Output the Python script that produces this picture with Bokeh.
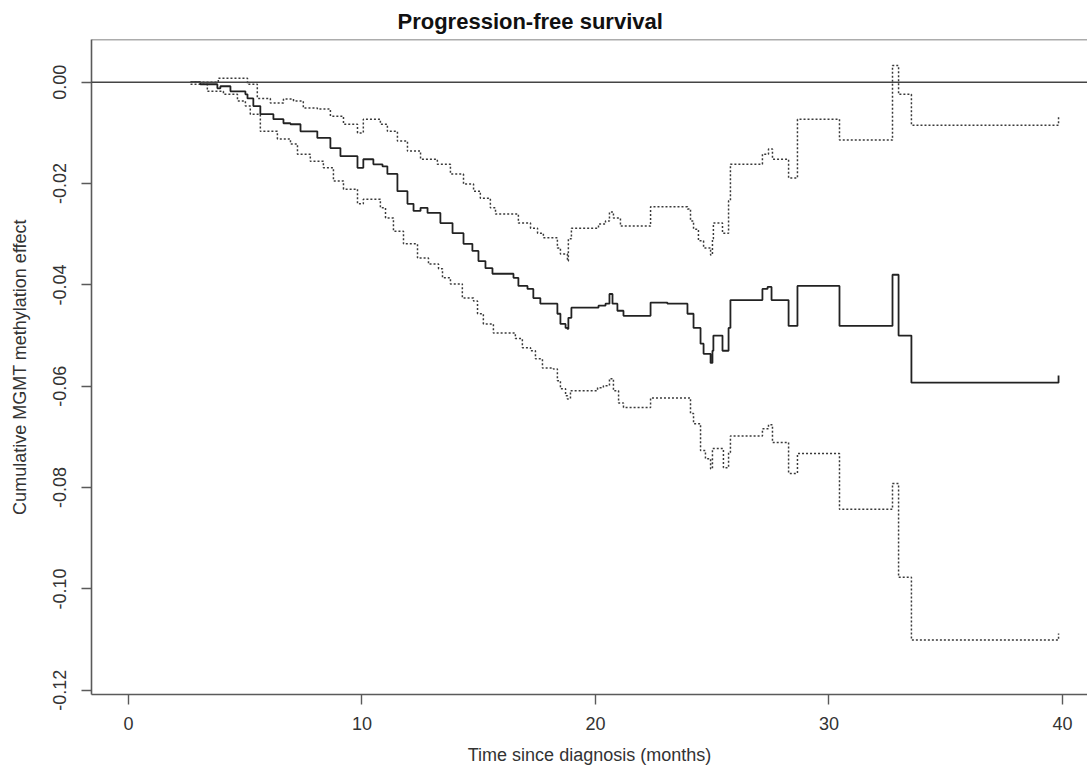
from bokeh.plotting import figure
from bokeh.models import Range1d, FixedTicker, Span, PrintfTickFormatter
from bokeh.embed import file_html
from bokeh.resources import INLINE

# ---------------- data ----------------
time_est = [2.66, 3.08, 3.81, 3.94, 4.37, 5.01, 5.10, 5.35, 5.65, 6.21, 6.64, 6.94, 7.37, 8.09,
            8.65, 9.08, 9.81, 10.06, 10.49, 10.88, 11.09, 11.52, 11.95, 12.21, 12.51, 12.81,
            13.36, 13.88, 14.35, 14.73, 14.99, 15.29, 15.59, 16.49, 16.70, 17.09, 17.34, 17.64,
            18.37, 18.50, 18.72, 18.80, 18.84, 18.97, 20.13, 20.43, 20.60, 20.73, 20.94, 21.20,
            22.36, 23.08, 23.94, 24.20, 24.50, 24.63, 24.93, 25.01, 25.05, 25.44, 25.70, 25.78,
            27.15, 27.37, 27.54, 28.27, 28.65, 30.45, 32.72, 32.98, 33.53, 39.83]
effect_est = [0.0, -0.0004, -0.0012, -0.0008, -0.0018, -0.0024, -0.0032, -0.0047, -0.0063,
              -0.0073, -0.0081, -0.0083, -0.0097, -0.0110, -0.0130, -0.0146, -0.0169, -0.0152,
              -0.0162, -0.0166, -0.0181, -0.0215, -0.0240, -0.0254, -0.0248, -0.0258, -0.0278,
              -0.0298, -0.0319, -0.0333, -0.0353, -0.0367, -0.0378, -0.0386, -0.0402, -0.0408,
              -0.0426, -0.0437, -0.0457, -0.0477, -0.0485, -0.0487, -0.0465, -0.0445, -0.0441,
              -0.0437, -0.0418, -0.0437, -0.0451, -0.0461, -0.0435, -0.0437, -0.0457, -0.0485,
              -0.0516, -0.0536, -0.0554, -0.0530, -0.0500, -0.0530, -0.0485, -0.0430, -0.0408,
              -0.0404, -0.0430, -0.0481, -0.0402, -0.0481, -0.0380, -0.0500, -0.0593, -0.0579]

time_up = [2.66, 3.85, 5.10, 5.52, 6.08, 6.64, 7.07, 7.49, 8.09, 8.65, 9.21, 9.81, 10.06, 10.79,
           11.09, 11.52, 11.95, 12.51, 13.23, 13.79, 14.35, 14.78, 15.07, 15.50, 15.72, 16.70,
           17.22, 17.52, 17.77, 18.37, 18.50, 18.80, 18.84, 18.97, 20.13, 20.43, 20.60, 20.77,
           21.07, 22.36, 23.94, 24.07, 24.20, 24.41, 24.63, 24.93, 25.01, 25.05, 25.44, 25.70,
           25.78, 27.15, 27.41, 27.58, 28.27, 28.65, 30.45, 32.72, 32.98, 33.53, 39.83]
effect_up = [0.0, 0.0008, -0.0004, -0.0032, -0.0041, -0.0033, -0.0037, -0.0051, -0.0053,
             -0.0067, -0.0083, -0.0100, -0.0073, -0.0083, -0.0097, -0.0116, -0.0136, -0.0152,
             -0.0162, -0.0181, -0.0201, -0.0215, -0.0229, -0.0248, -0.0260, -0.0278, -0.0288,
             -0.0298, -0.0307, -0.0327, -0.0339, -0.0353, -0.0309, -0.0288, -0.0280, -0.0274,
             -0.0256, -0.0268, -0.0284, -0.0246, -0.0250, -0.0274, -0.0290, -0.0313, -0.0327,
             -0.0341, -0.0309, -0.0278, -0.0298, -0.0234, -0.0162, -0.0142, -0.0132, -0.0152,
             -0.0189, -0.0073, -0.0114, 0.0033, -0.0024, -0.0085, -0.0069]

time_lo = [2.66, 3.38, 4.07, 4.67, 5.01, 5.22, 5.65, 6.38, 6.94, 7.24, 7.79, 8.35, 8.78, 9.21,
           9.81, 10.06, 10.79, 11.01, 11.35, 11.78, 12.38, 12.85, 13.28, 13.45, 13.79, 14.30,
           14.78, 14.95, 15.20, 15.63, 16.57, 16.87, 17.22, 17.43, 17.73, 18.20, 18.37, 18.50,
           18.72, 18.80, 18.93, 20.09, 20.34, 20.60, 20.77, 20.99, 21.20, 22.36, 24.07, 24.20,
           24.50, 24.71, 24.93, 25.01, 25.48, 25.70, 25.78, 27.15, 27.41, 27.58, 28.27, 28.65,
           30.45, 32.72, 32.98, 33.53, 39.83]
effect_lo = [-0.0004, -0.0018, -0.0024, -0.0037, -0.0047, -0.0063, -0.0097, -0.0112, -0.0122,
             -0.0142, -0.0156, -0.0169, -0.0195, -0.0211, -0.0240, -0.0231, -0.0248, -0.0268,
             -0.0294, -0.0319, -0.0347, -0.0359, -0.0368, -0.0386, -0.0398, -0.0426, -0.0432,
             -0.0457, -0.0477, -0.0495, -0.0506, -0.0524, -0.0530, -0.0546, -0.0564, -0.0566,
             -0.0589, -0.0605, -0.0619, -0.0625, -0.0609, -0.0603, -0.0599, -0.0585, -0.0609,
             -0.0633, -0.0642, -0.0623, -0.0654, -0.0674, -0.0727, -0.0743, -0.0763, -0.0723,
             -0.0761, -0.0731, -0.0698, -0.0684, -0.0676, -0.0711, -0.0772, -0.0733, -0.0843,
             -0.0792, -0.0977, -0.1101, -0.1088]

x_ticks = [0, 10, 20, 30, 40]
y_ticks = [0.0, -0.02, -0.04, -0.06, -0.08, -0.10, -0.12]

title_text = "Progression-free survival"
x_label = "Time since diagnosis (months)"
y_label = "Cumulative MGMT methylation effect"

# ---------------- figure ----------------
FONT = "Liberation Sans"
TEXT = "#333333"
FRAME = "#5a5a5a"
Y_TOP = 0.00843

p = figure(width=1087, height=779, output_backend="svg", toolbar_location=None,
           x_range=Range1d(-1.58, 41.07), y_range=Range1d(-0.12084, Y_TOP),
           min_border_left=91, min_border_right=0, min_border_top=39, min_border_bottom=85,
           title=title_text)
p.outline_line_color = None
p.xgrid.visible = False
p.ygrid.visible = False
p.background_fill_color = "white"
p.border_fill_color = "white"

p.title.align = "left"
p.title.offset = 306
p.title.text_font = FONT
p.title.text_font_size = "22px"
p.title.text_font_style = "bold"
p.title.text_color = "#111111"
p.title.standoff = 11

for ax in (p.xaxis[0], p.yaxis[0]):
    ax.axis_line_color = FRAME
    ax.axis_line_width = 1.6
    ax.major_tick_line_color = FRAME
    ax.major_tick_line_width = 1.4
    ax.major_tick_out = 10
    ax.major_tick_in = 0
    ax.minor_tick_line_color = None
    ax.major_label_text_font = FONT
    ax.major_label_text_font_size = "18px"
    ax.major_label_text_color = TEXT
    ax.axis_label_text_font = FONT
    ax.axis_label_text_font_size = "18px"
    ax.axis_label_text_font_style = "normal"
    ax.axis_label_text_color = TEXT

p.xaxis[0].ticker = FixedTicker(ticks=x_ticks)
p.xaxis[0].axis_label = x_label
p.xaxis[0].major_label_standoff = 12
p.xaxis[0].axis_label_standoff = 12

p.yaxis[0].ticker = FixedTicker(ticks=y_ticks)
p.yaxis[0].formatter = PrintfTickFormatter(format="%.2f")
p.yaxis[0].major_label_orientation = "vertical"
p.yaxis[0].axis_label = y_label
p.yaxis[0].major_label_standoff = 15
p.yaxis[0].axis_label_standoff = 21

# top edge of the box
p.add_layout(Span(location=Y_TOP, dimension="width", line_color=FRAME, line_width=1.6))
# reference line at zero
p.add_layout(Span(location=0.0, dimension="width", line_color="#444444", line_width=1.5))

p.step(time_up, effect_up, mode="after", line_color="#3a3a3a", line_width=1.5, line_dash="2 2")
p.step(time_lo, effect_lo, mode="after", line_color="#3a3a3a", line_width=1.5, line_dash="2 2")
p.step(time_est, effect_est, mode="after", line_color="#222222", line_width=1.8)

open("out.html", "w").write(file_html(p, INLINE))
